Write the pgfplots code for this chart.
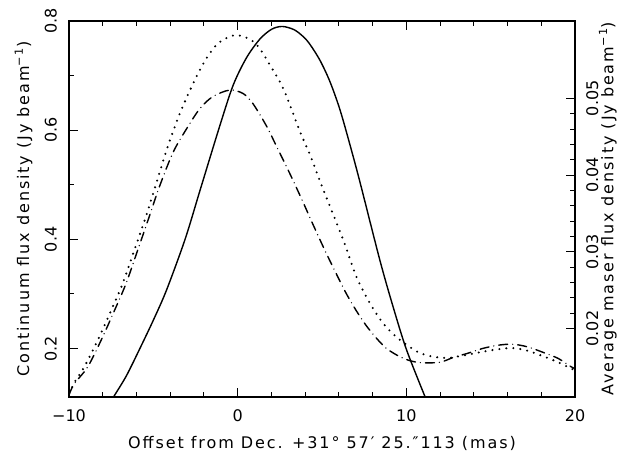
\documentclass[border=0pt]{standalone}
\usepackage{fontspec}
\setmainfont{DejaVu Sans}
\newfontfamily\lblfont[LetterSpace=12]{DejaVu Sans}
\usepackage{pgfplots}
\pgfplotsset{compat=1.18}
\usetikzlibrary{calc}

\pgfplotsset{
  frame/.style={
    scale only axis, width=506pt, height=376pt,
    xmin=-10, xmax=20,
    tick align=inside,
    major tick length=9pt, minor tick length=5pt,
    axis line style={line width=1.3pt},
    every tick/.append style={black, line width=1pt},
    every minor tick/.append style={black, line width=1pt},
    label style={font=\fontsize{16}{19}\lblfont},
  },
}

\begin{document}
\begin{tikzpicture}[font=\fontsize{16}{19}\selectfont]
\begin{axis}[frame,
  ymin=0.1113, ymax=0.8,
  xtick={-10,0,10,20}, xticklabels={−10,0,10,20}, minor x tick num=4,
  ytick={0.2,0.4,0.6,0.8}, yticklabels={0.2,0.4,0.6,0.8}, minor y tick num=1,
  ytick pos=left,
  xticklabel style={anchor=north, inner sep=0pt, yshift=-12pt},
  yticklabel style={xshift=-12pt, rotate=90, anchor=south, inner sep=0pt},
  xlabel={Offset from Dec. +31° 57′ 25.″113 (mas)},
  ylabel={Continuum flux density (Jy beam\textsuperscript{−1})},
  xlabel style={at={(axis description cs:0.5,-0.104)}, anchor=north, inner sep=0pt},
  ylabel style={at={(axis description cs:-0.072,0.5)}, rotate=0, anchor=south, inner sep=0pt},
]
\coordinate (sw) at (rel axis cs:0,0);
\coordinate (ne) at (rel axis cs:1,1);

% solid
\addplot[black, line width=1.4pt, smooth] coordinates {
(-7.37,0.111) (-6.6,0.150) (-5.8,0.200) (-5.0,0.252) (-4.22,0.307)
(-3.12,0.400) (-2.23,0.490) (-1.05,0.609) (-0.26,0.683) (0.53,0.733)
(1.32,0.767) (2.02,0.785) (2.65,0.790) (3.35,0.784) (3.9,0.771)
(4.29,0.757) (4.88,0.728) (5.47,0.689) (6.06,0.638) (6.66,0.573)
(7.25,0.505) (8.43,0.362) (9.22,0.276) (10.02,0.197) (11.12,0.111)};

% dotted
\addplot[black, line width=2.3pt, line cap=round, dash pattern=on 0pt off 7pt, smooth] coordinates {
(-10,0.118) (-9.6,0.142) (-9.1,0.166) (-8.3,0.215) (-7.5,0.270)
(-6.82,0.319) (-6.13,0.380) (-5.45,0.441) (-4.9,0.495) (-4.2,0.565)
(-3.5,0.625) (-2.8,0.675) (-2.0,0.724) (-1.2,0.758) (-0.2,0.774)
(0.7,0.767) (1.3,0.750) (1.9,0.720) (2.6,0.683) (3.1,0.646)
(3.7,0.597) (4.3,0.554) (4.9,0.505) (5.4,0.466) (6.26,0.399)
(7.05,0.331) (7.84,0.283) (8.63,0.246) (9.42,0.221) (10.2,0.203)
(10.8,0.192) (11.6,0.185) (12.5,0.183) (13.5,0.188) (14.5,0.194)
(15.5,0.199) (16.3,0.201) (17.2,0.196) (18.1,0.186) (19.0,0.175)
(20,0.160)};

% dash-dot
\addplot[black, line width=1.4pt, line cap=round, dash pattern=on 9pt off 5pt on 0pt off 5pt, smooth] coordinates {
(-10,0.115) (-9.7,0.135) (-8.9,0.166) (-8.1,0.215) (-7.3,0.270)
(-6.62,0.319) (-5.93,0.380) (-5.25,0.441) (-4.61,0.499) (-3.82,0.560)
(-3.02,0.603) (-2.23,0.640) (-1.45,0.662) (-0.46,0.6735) (0.33,0.667)
(0.92,0.648) (1.72,0.607) (2.31,0.570) (3.10,0.520) (3.85,0.470)
(4.5,0.425) (5.2,0.378) (5.8,0.340) (6.4,0.303) (7.0,0.271)
(7.6,0.243) (8.2,0.220) (8.83,0.200) (9.62,0.185) (10.2,0.178)
(10.9,0.174) (12.0,0.175) (12.8,0.184) (13.6,0.191) (14.5,0.200)
(15.4,0.206) (16.3,0.208) (17.2,0.203) (18.2,0.192) (19.0,0.182)
(19.7,0.168) (20,0.163)};
\end{axis}

\begin{axis}[frame,
  ymin=0.01108, ymax=0.06008,
  axis x line=none, axis y line*=right,
  scaled y ticks=false,
  ytick={0.02,0.03,0.04,0.05}, yticklabels={0.02,0.03,0.04,0.05},
  minor y tick num=4,
  yticklabel style={xshift=11pt, rotate=90, anchor=north, inner sep=0pt},
  ylabel={Average maser flux density (Jy beam\textsuperscript{−1})},
  ylabel style={at={(axis description cs:1.047,0.5)}, rotate=0, anchor=north, inner sep=0pt},
]
\end{axis}

\pgfresetboundingbox
\path ($(sw)+(-69pt,-65pt)$) rectangle ($(ne)+(58pt,21pt)$);
\end{tikzpicture}
\end{document}
